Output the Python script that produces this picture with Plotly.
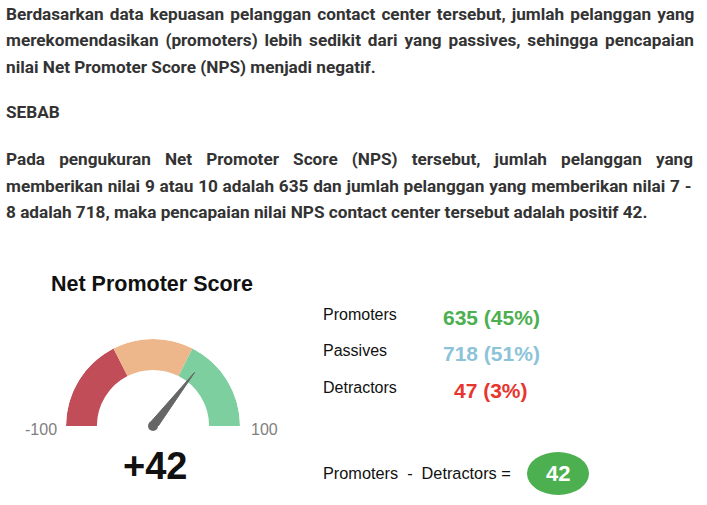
import plotly.graph_objects as go

# ------------------------------------------------------------
# data
# ------------------------------------------------------------
paragraph_1 = [
    "Berdasarkan data kepuasan pelanggan contact center tersebut, jumlah pelanggan yang",
    "merekomendasikan (promoters) lebih sedikit dari yang passives, sehingga pencapaian",
    "nilai Net Promoter Score (NPS) menjadi negatif.",
]
heading = "SEBAB"
paragraph_2 = [
    "Pada pengukuran Net Promoter Score (NPS) tersebut, jumlah pelanggan yang",
    "memberikan nilai 9 atau 10 adalah 635 dan jumlah pelanggan yang memberikan nilai 7 -",
    "8 adalah 718, maka pencapaian nilai NPS contact center tersebut adalah positif 42.",
]

categories = ["Promoters", "Passives", "Detractors"]
counts = [635, 718, 47]
percents = [45, 51, 3]
nps_value = 42
gauge_min, gauge_max = -100, 100
band_edges = [-100, -30, 30, 100]
band_colors = ["#C04D57", "#EDB78B", "#7ECFA0"]
value_colors = ["#4CAF50", "#8CC3D8", "#E8352E"]

W, H = 707, 505


def px(x):
    return x / W


def py(y):
    return 1 - y / H


def to_theta(v):
    # -100 on the left, +100 on the right
    return (v - gauge_min) / (gauge_max - gauge_min) * 180


fig = go.Figure()

# ------------------------------------------------------------
# gauge bands
# ------------------------------------------------------------
hole = 0.645
mids = [to_theta((a + b) / 2) for a, b in zip(band_edges[:-1], band_edges[1:])]
widths = [to_theta(b) - to_theta(a) for a, b in zip(band_edges[:-1], band_edges[1:])]
fig.add_trace(go.Barpolar(
    r=[1 - hole] * 3,
    base=[hole] * 3,
    theta=mids,
    width=widths,
    marker=dict(color=band_colors, line=dict(width=0)),
    hoverinfo="skip",
    showlegend=False,
))

# needle
t = to_theta(nps_value)
fig.add_trace(go.Scatterpolar(
    r=[0.05, 0.78, 0.05, 0.05],
    theta=[t - 90, t, t + 90, t - 90],
    mode="lines",
    fill="toself",
    fillcolor="#666666",
    line=dict(color="#666666", width=1),
    cliponaxis=False,
    hoverinfo="skip",
    showlegend=False,
))
fig.add_trace(go.Scatterpolar(
    r=[0], theta=[0], mode="markers",
    marker=dict(color="#666666", size=10),
    cliponaxis=False,
    hoverinfo="skip",
    showlegend=False,
))

cx, cy, R = 153, 426, 87
fig.update_layout(
    polar=dict(
        domain=dict(x=[px(cx - R), px(cx + R)], y=[py(cy), py(cy - R)]),
        sector=[0, 180],
        bgcolor="rgba(0,0,0,0)",
        radialaxis=dict(visible=False, range=[0, 1]),
        angularaxis=dict(visible=False, rotation=180, direction="clockwise"),
    )
)

# ------------------------------------------------------------
# text
# ------------------------------------------------------------
ann = []


def add_text(x, y, text, font, xanchor="left"):
    ann.append(dict(x=px(x), y=py(y), text=text, xanchor=xanchor, yanchor="middle",
                    showarrow=False, font=font))


body_font = dict(family="Roboto", size=17.2, color="#333333", weight=700)
# word spacing (px) to stretch the justified lines to the full width
spacing_1 = [1.85, 2.6, 0]
spacing_2 = [9.8, 0.5, 0]
for txt, y, ws in zip(paragraph_1, [14, 40, 67], spacing_1):
    add_text(4, y, '<span style="word-spacing:%.2fpx">%s</span>' % (ws, txt), body_font)
add_text(4, 112, heading, body_font)
for txt, y, ws in zip(paragraph_2, [159, 186, 212], spacing_2):
    add_text(4, y, '<span style="word-spacing:%.2fpx">%s</span>' % (ws, txt), body_font)

arial = "Liberation Sans, Arial, sans-serif"
add_text(152, 284, "<b>Net Promoter Score</b>", dict(family=arial, size=21.5, color="#111111"), "center")
add_text(59, 429, str(gauge_min), dict(family=arial, size=16, color="#808080"), "right")
add_text(249, 429, str(gauge_max), dict(family=arial, size=16, color="#808080"), "left")
add_text(155, 466, "<b>%+d</b>" % nps_value, dict(family=arial, size=38, color="#111111"), "center")

for i, (cat, n, p) in enumerate(zip(categories, counts, percents)):
    yy = [314, 350, 387][i]
    add_text(321, yy, cat, dict(family=arial, size=16, color="#111111"))
    add_text(491, yy + 3, "<b>%d (%d%%)</b>" % (n, p),
             dict(family=arial, size=21, color=value_colors[i]), "center")

add_text(321, 473, "Promoters  -  Detractors =", dict(family=arial, size=16.3, color="#111111"))
add_text(558, 473, "<b>%d</b>" % nps_value, dict(family=arial, size=22, color="white"), "center")

fig.add_shape(type="circle", xref="paper", yref="paper",
              x0=px(527), x1=px(589), y0=py(495), y1=py(452),
              fillcolor="#4CAF50", line=dict(width=0), layer="below")

fig.update_layout(
    annotations=ann,
    width=W, height=H,
    margin=dict(l=0, r=0, t=0, b=0),
    paper_bgcolor="white",
    plot_bgcolor="white",
)

fig.write_html("out.html", config={"displayModeBar": False},
               post_script="document.body.style.margin='0';")
